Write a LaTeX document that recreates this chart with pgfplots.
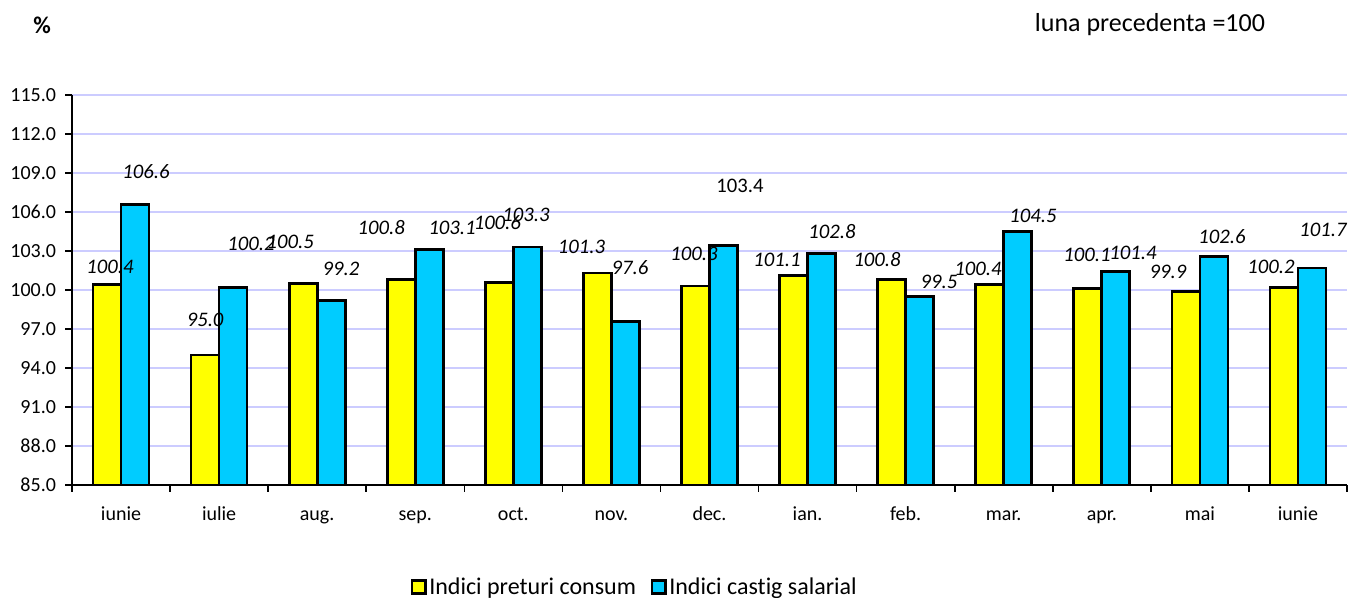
\documentclass[border=0pt]{standalone}
\usepackage{fontspec}
\setmainfont{Carlito}[Ligatures=NoCommon]
\usepackage{pgfplots}
\pgfplotsset{compat=1.18}
\usepackage{pgfplotstable}
\definecolor{ycol}{RGB}{255,255,0}
\definecolor{ccol}{RGB}{0,204,255}
\definecolor{gridc}{RGB}{204,204,255}

\pgfplotstableread{
x y dx dy up
0 100.4 3 17.8 0
1 95.0 0 35 0
2 100.5 -13 41.5 0
3 100.8 -20 51.6 0
4 100.6 -2 59.2 0
5 101.3 -16 26.1 0
6 100.3 -1.5 32.1 0
7 101.1 -16.6 15.7 0
8 100.8 -14.6 19.6 0
9 100.4 -11.7 15.8 0
10 100.1 -0.8 33.7 0
11 99.9 -17.9 19.3 0
12 100.2 -13 20.4 0
}\cpi

\pgfplotstableread{
x y dx dy up
0 106.6 11 32.2 0
1 100.2 17.9 43.4 0
2 99.2 9.8 31.4 0
3 103.1 22.8 21.7 0
4 103.3 -1.3 32.1 0
5 97.6 4.6 53.2 0
6 103.4 16.5 59.8 1
7 102.8 10.4 21.6 0
8 99.5 19.4 14.5 0
9 104.5 15.3 15.5 0
10 101.4 17.2 18.8 0
11 102.6 8.1 19.2 0
12 101.7 11 37.9 0
}\wage

\pgfplotsset{
  vallabels/.style={
    nodes near coords={\pgfmathprintnumber[fixed,fixed zerofill,precision=1]{\pgfplotspointmeta}},
    visualization depends on={\thisrow{dx} \as \dx},
    visualization depends on={\thisrow{dy} \as \dy},
    visualization depends on={\thisrow{up} \as \up},
    every node near coord/.append style={anchor=center, inner sep=0pt,
      xshift=\dx*0.75pt, yshift=\dy*0.75pt, text=black,
      font=\ifdim\up pt>0.5pt\upshape\else\itshape\fi\fontsize{15.5}{18}\selectfont},
  }
}

\begin{document}
\begin{tikzpicture}
\path[use as bounding box] (-54pt,-84.75pt) rectangle (957.75pt,363.75pt);
\begin{axis}[
  at={(0,0)}, anchor=south west,
  scale only axis, width=956.25pt, height=292.5pt,
  xmin=-0.5, xmax=12.5, ymin=85, ymax=115,
  ytick={85,88,91,94,97,100,103,106,109,112,115},
  xtick={0,...,12},
  xticklabels={iunie,iulie,aug.,sep.,oct.,nov.,dec.,ian.,feb.,mar.,apr.,mai,iunie},
  minor xtick={-0.5,0.5,1.5,2.5,3.5,4.5,5.5,6.5,7.5,8.5,9.5,10.5,11.5,12.5},
  axis x line*=bottom, axis y line*=left,
  axis line style={line width=1.5pt, -},
  tick align=outside,
  major tick length=5pt, minor tick length=5pt,
  major x tick style={draw=none},
  minor x tick style={black, line width=1.2pt},
  ytick style={black, line width=1.2pt},
  ymajorgrids, grid style={gridc, line width=1.5pt},
  /pgf/number format/assume math mode=true,
  ticklabel style={font=\fontsize{15}{17}\selectfont},
  xticklabel style={anchor=north, text height=10pt, text depth=3pt, yshift=-8pt},
  yticklabel style={xshift=-3.5pt, /pgf/number format/.cd, fixed, fixed zerofill, precision=1},
  ybar=0pt, bar width=21pt,
  legend style={at={(0.4416,-0.2615)}, anchor=center, draw=none, fill=none,
    legend columns=2, font=\fontsize{18}{20}\selectfont,
    /tikz/every even column/.append style={column sep=9pt},
    /tikz/every odd column/.append style={column sep=0pt},
    nodes={inner sep=2pt}},
  legend image code/.code={\draw[#1,line width=2pt] (0pt,-5pt) rectangle (10pt,5pt);},
]
\addplot[fill=ycol, draw=black, line width=2pt, vallabels] table[x=x,y=y] {\cpi};
\addplot[fill=ccol, draw=black, line width=2pt, vallabels] table[x=x,y=y] {\wage};
\legend{Indici preturi consum, Indici castig salarial}
\end{axis}
\node[font=\bfseries\fontsize{18}{20}\selectfont] at (-22.5pt,345pt) {\%};
\node[font=\fontsize{19.5}{22}\selectfont] at (808.5pt,345pt) {luna precedenta =100};
\end{tikzpicture}
\end{document}
